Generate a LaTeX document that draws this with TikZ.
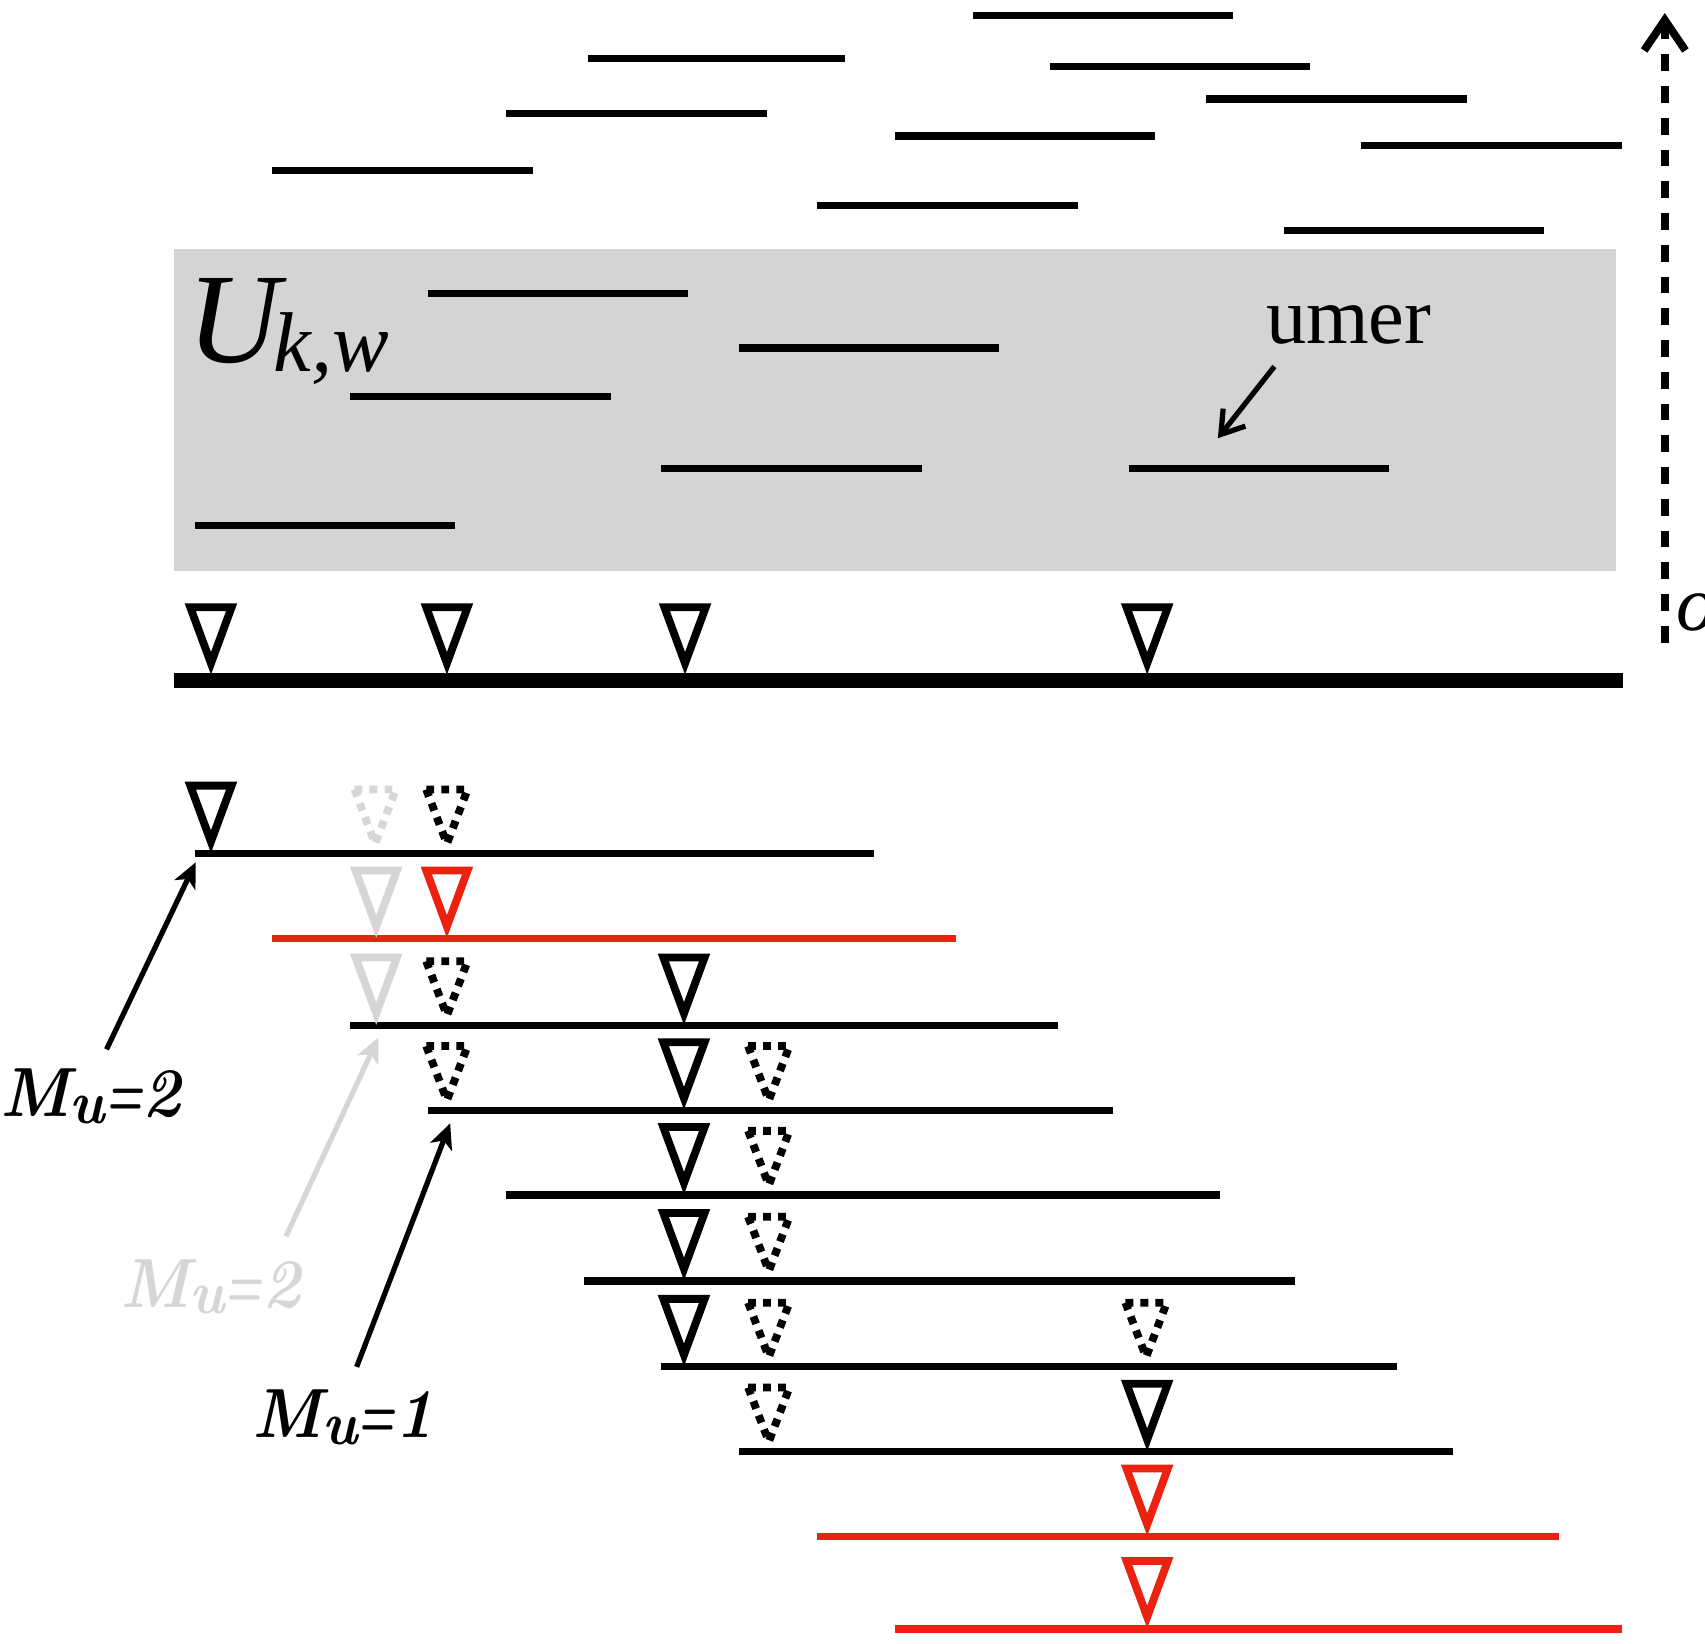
\documentclass[tikz,border=0pt]{standalone}
\usepackage{graphicx}
\usepackage{fontspec}
\newfontfamily\serifT{Liberation Serif}
\usetikzlibrary{arrows.meta}
\definecolor{boxgray}{RGB}{212,212,212}
\definecolor{lightgr}{RGB}{214,214,214}
\definecolor{myred}{RGB}{236,34,17}
\tikzset{
  seg/.style={line width=3.3pt},
  timeline/.style={line width=6.9pt},
  tri/.style={line width=3.6pt, line join=miter},
  dtri/.style={line width=3.6pt, dash pattern=on 3.6pt off 3.3pt},
  lbl/.style={anchor=base west, inner sep=0pt, font=\bfseries\itshape\fontsize{32}{32}\selectfont},
  ptr/.style={line width=2.4pt, -{Stealth[length=11.5pt, width=10.5pt, inset=3pt]}},
  barb/.style={line width=2.4pt, -{Straight Barb[length=10pt, width=13pt]}},
}
\newcommand\soltri[3]{\draw[tri,#3] ({#1-19},{#2-62.5}) -- ({#1+19},{#2-62.5}) -- (#1,{#2-11}) -- cycle;}
\newcommand\dottri[3]{\draw[dtri,#3] ({#1-19},{#2-59}) -- ({#1+19},{#2-59}) -- (#1,{#2-9}) -- cycle;}
\newcommand\mlab[1]{\scalebox{0.93}[1]{M\raisebox{-3pt}{\fontsize{28}{28}\selectfont u}\scalebox{0.66}[1]{=}#1}}
\begin{document}
\begin{tikzpicture}[x=0.5pt,y=-0.5pt]
\useasboundingbox (0,0) rectangle (1568,1511);
% grey box
\fill[boxgray] (160,229) rectangle (1486,525);
% top intervals
\draw[seg] (895,14) -- (1134,14);
\draw[seg] (541,54) -- (777,54);
\draw[seg] (966,61) -- (1205,61);
\draw[seg] (1109,91) -- (1349,91);
\draw[seg] (465,104) -- (705,104);
\draw[seg] (823,125) -- (1062,125);
\draw[seg] (1252,134) -- (1492,134);
\draw[seg] (250,157) -- (490,157);
\draw[seg] (751,189) -- (991,189);
\draw[seg] (1181,212) -- (1420,212);
% intervals in box
\draw[seg] (394,270) -- (633,270);
\draw[seg] (680,320) -- (919,320);
\draw[seg] (322,365) -- (562,365);
\draw[seg] (608,431) -- (848,431);
\draw[seg] (1038,431) -- (1277,431);
\draw[seg] (179,483) -- (418,483);
% labels in box
\node[anchor=base west, inner sep=0pt] (ukw) at (172,333) {\serifT\itshape\fontsize{59}{59}\selectfont U\kern-3pt\raisebox{-4.5pt}{\fontsize{39}{39}\selectfont k,w}};
\node[anchor=base west, inner sep=0pt] (umer) at (1164,316) {\serifT\fontsize{37}{37}\selectfont umer};
\coordinate (ut) at (1172,337);
\coordinate (uh) at (1120,403);
\draw[barb] (ut) -- (uh);
% vertical dashed arrow
\coordinate (vb) at (1531,591);
\coordinate (vt) at (1531,12);
\draw[line width=3.6pt, dash pattern=on 7.7pt off 6.9pt, -{Straight Barb[length=14pt, width=19pt]}] (vb) -- (vt);
\node[anchor=base west, inner sep=0pt] (olbl) at (1541,580) {\serifT\itshape\fontsize{36}{36}\selectfont o};
% timeline
\draw[timeline] (160,626) -- (1493,626);
\soltri{194}{621}{black}
\soltri{411}{621}{black}
\soltri{630}{621}{black}
\soltri{1055}{621}{black}
% R1
\draw[seg] (179,785) -- (804,785);
\soltri{194}{785}{black}
\dottri{345}{785}{lightgr}
\dottri{411}{785}{black}
% R2
\draw[seg,myred] (250,863) -- (879,863);
\soltri{346}{863}{lightgr}
\soltri{411}{863}{myred}
% R3
\draw[seg] (322,943) -- (973,943);
\soltri{346}{943}{lightgr}
\dottri{411}{943}{black}
\soltri{629}{943}{black}
% R4
\draw[seg] (394,1021) -- (1024,1021);
\dottri{411}{1021}{black}
\soltri{629}{1021}{black}
\dottri{707}{1021}{black}
% R5
\draw[seg] (465,1099) -- (1122,1099);
\soltri{629}{1099}{black}
\dottri{707}{1099}{black}
% R6
\draw[seg] (537,1178) -- (1191,1178);
\soltri{629}{1178}{black}
\dottri{707}{1178}{black}
% R7
\draw[seg] (608,1257) -- (1285,1257);
\soltri{629}{1257}{black}
\dottri{707}{1257}{black}
\dottri{1054}{1257}{black}
% R8
\draw[seg] (680,1335) -- (1336,1335);
\dottri{707}{1335}{black}
\soltri{1055}{1335}{black}
% R9
\draw[seg,myred] (751,1413) -- (1434,1413);
\soltri{1055}{1413}{myred}
% R10
\draw[seg,myred] (823,1498) -- (1492,1498);
\soltri{1055}{1498}{myred}
% labels and arrows
\node[lbl] (m2a) at (0,1027) {\mlab{2}};
\node[lbl, text=lightgr] (m2b) at (110,1202) {\mlab{2}};
\node[lbl] (m1) at (232,1322) {\mlab{1}};
\coordinate (a1t) at (98,965);
\coordinate (a1h) at (180,793);
\coordinate (a2t) at (263,1137);
\coordinate (a2h) at (348,954);
\coordinate (a3t) at (328,1257);
\coordinate (a3h) at (414,1033);
\draw[ptr] (a1t) -- (a1h);
\draw[ptr, lightgr] (a2t) -- (a2h);
\draw[ptr] (a3t) -- (a3h);
\end{tikzpicture}
\end{document}
